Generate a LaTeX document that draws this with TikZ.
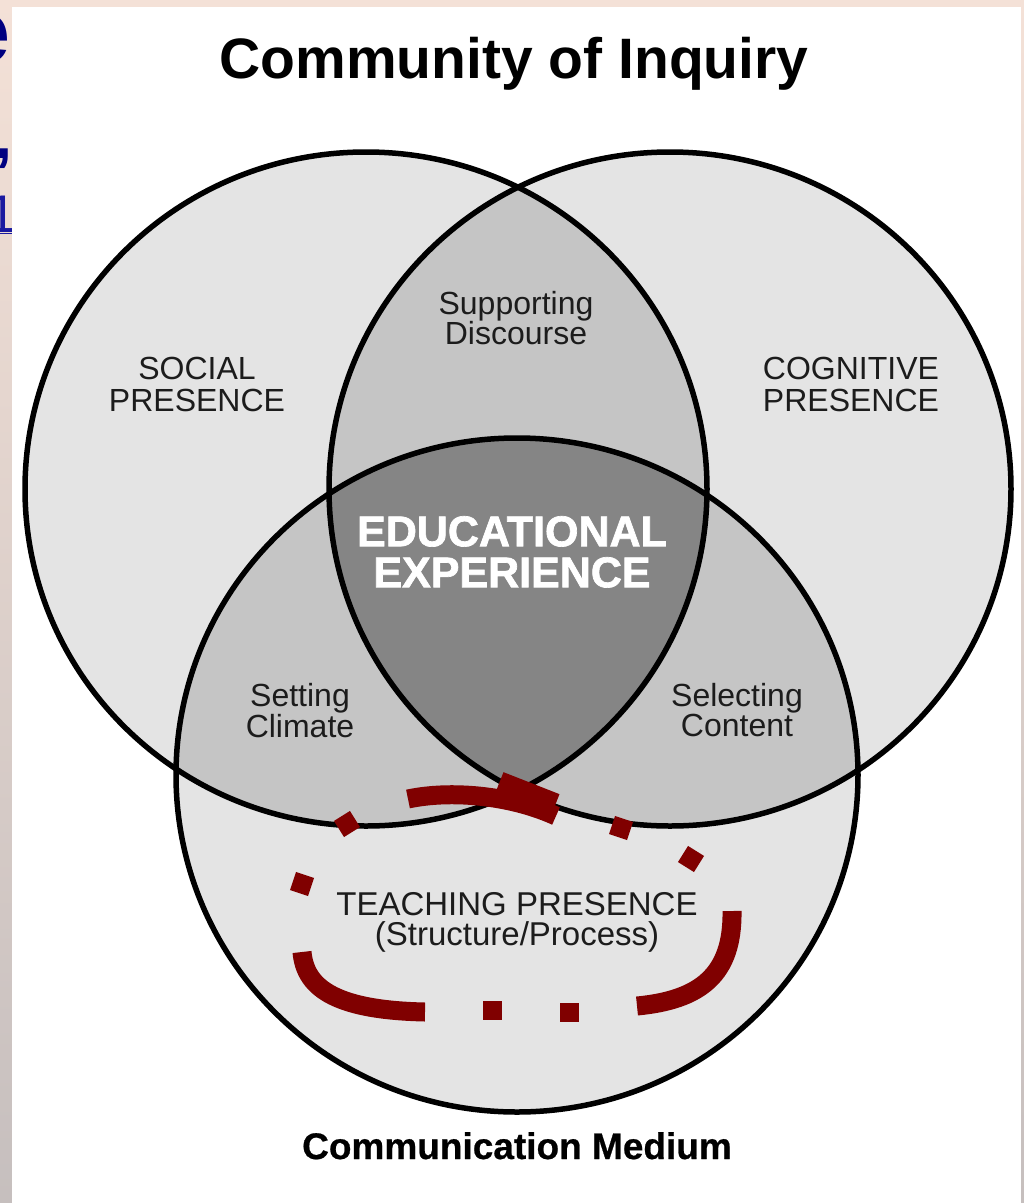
\documentclass[tikz,border=0pt]{standalone}
\usepackage{fontspec}
\setmainfont{Liberation Sans}
\newfontfamily\heavyfont[FakeBold=1.6]{Liberation Sans Bold}
\newfontfamily\semiheavyfont[FakeBold=0.6]{Liberation Sans Bold}
\definecolor{bgtop}{HTML}{F4E1D7}
\definecolor{bgmid}{HTML}{DCC9CC}
\definecolor{bgbot}{HTML}{C6BFBE}
\definecolor{navyblue}{HTML}{000080}
\definecolor{linkblue}{HTML}{1A1AA0}
\definecolor{lightg}{HTML}{E4E4E4}
\definecolor{midg}{HTML}{C5C5C5}
\definecolor{darkg}{HTML}{858585}
\definecolor{labelgray}{HTML}{1C1C1C}
\definecolor{darkred}{HTML}{800000}
\def\rx{341}
\def\ry{337}
\begin{document}
\begin{tikzpicture}[x=1pt,y=-1pt,
  ring/.style={line width=5.5pt, draw=black},
  lbl/.style={inner sep=0pt, text=labelgray, align=center, anchor=north,
              font=\fontsize{32}{32}\selectfont},
  frag/.style={inner sep=0pt, anchor=base east},
  rd/.style={draw=darkred, line width=19pt, line cap=butt}]

\useasboundingbox (0,0) rectangle (1024,1203);
\shade[top color=bgtop, middle color=bgmid, bottom color=bgbot] (0,0) rectangle (1024,1203);

% cut-off slide text at the left edge
\node[frag, text=navyblue, font=\bfseries\fontsize{90}{90}\selectfont] (fragA) at (11,62) {e};
\node[frag, text=navyblue, font=\bfseries\fontsize{65}{65}\selectfont] (fragB) at (13,158) {,};
\node[frag, text=linkblue, font=\fontsize{53}{53}\selectfont] (fragC) at (17,232) {\underline{1}};

% white panel
\fill[white] (12,7) rectangle (1021,1203);

\coordinate (cS) at (366,489);
\coordinate (cC) at (670,489);
\coordinate (cT) at (517,775);

% fills
\fill[lightg] (cS) ellipse [x radius=\rx, y radius=\ry];
\fill[lightg] (cC) ellipse [x radius=\rx, y radius=\ry];
\fill[lightg] (cT) ellipse [x radius=\rx, y radius=\ry];
\begin{scope}
  \clip (cS) ellipse [x radius=\rx, y radius=\ry];
  \fill[midg] (cC) ellipse [x radius=\rx, y radius=\ry];
  \fill[midg] (cT) ellipse [x radius=\rx, y radius=\ry];
\end{scope}
\begin{scope}
  \clip (cC) ellipse [x radius=\rx, y radius=\ry];
  \fill[midg] (cT) ellipse [x radius=\rx, y radius=\ry];
\end{scope}
\begin{scope}
  \clip (cS) ellipse [x radius=\rx, y radius=\ry];
  \clip (cC) ellipse [x radius=\rx, y radius=\ry];
  \fill[darkg] (cT) ellipse [x radius=\rx, y radius=\ry];
\end{scope}
\draw[ring] (cS) ellipse [x radius=\rx, y radius=\ry];
\draw[ring] (cC) ellipse [x radius=\rx, y radius=\ry];
\draw[ring] (cT) ellipse [x radius=\rx, y radius=\ry];

% texts
\node[inner sep=0pt, anchor=base, font=\bfseries\fontsize{57}{57}\selectfont] (title) at (514,78) {Community of Inquiry};
\node[lbl] (social) at (197,357) {SOCIAL\\PRESENCE};
\node[lbl] (cognitive) at (851,357) {COGNITIVE\\PRESENCE};
\node[lbl, font=\fontsize{32}{30}\selectfont] (support) at (516,291) {Supporting\\Discourse};
\node[lbl, text=white, font=\heavyfont\fontsize{43}{41}\selectfont] (edu) at (512,516) {EDUCATIONAL\\EXPERIENCE};
\node[lbl, font=\fontsize{32}{28}\selectfont] (climate) at (300,683) {Setting\\Climate};
\node[lbl, font=\fontsize{32}{28}\selectfont] (content) at (737,683) {Selecting\\Content};
\node[lbl, font=\fontsize{33}{30}\selectfont] (teaching) at (517,892) {TEACHING PRESENCE\\(Structure/Process)};
\node[inner sep=0pt, anchor=base, font=\semiheavyfont\fontsize{37}{37}\selectfont] (medium) at (517,1159) {Communication Medium};

% red dash-dot-dot loop
\draw[rd] (408,799) .. controls (450,790) and (510,795) .. (556,816);
\draw[rd] (500,781) -- (556,803);
\draw[rd] (612,825) -- (630,831);
\draw[rd] (683,854) -- (699,864);
\draw[rd] (732,911) .. controls (733,975) and (700,1000) .. (637,1006);
\draw[rd] (560,1012) -- (579,1012);
\draw[rd] (483,1010) -- (502,1010);
\draw[rd] (425,1012) .. controls (330,1010) and (305,985) .. (302,952);
\draw[rd] (293,881) -- (311,887);
\draw[rd] (339,829) -- (355,819);
\end{tikzpicture}
\end{document}
